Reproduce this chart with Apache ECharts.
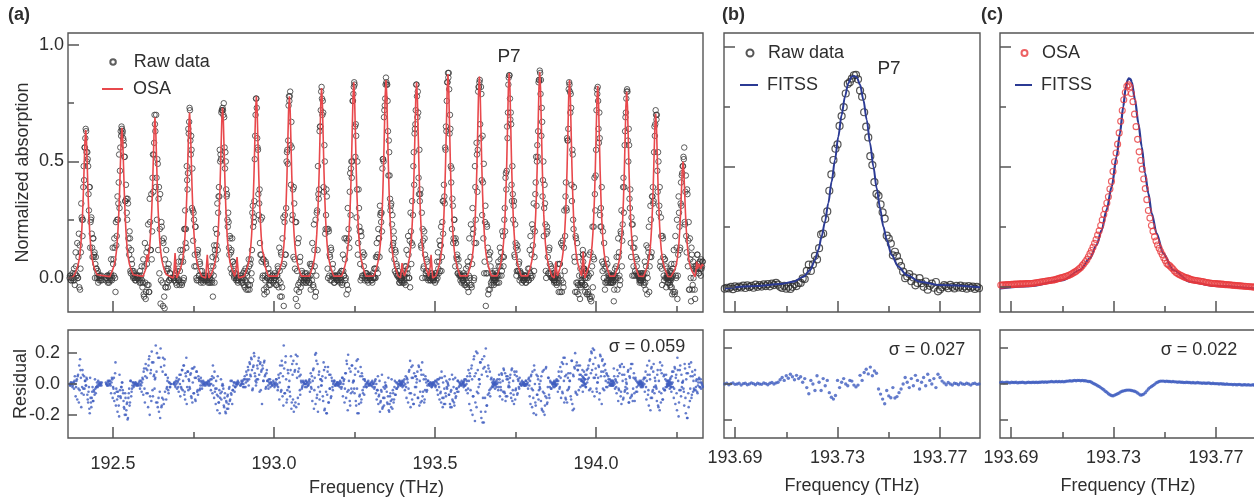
<!DOCTYPE html>
<html><head><meta charset="utf-8">
<script src="https://cdn.jsdelivr.net/npm/echarts@6/dist/echarts.min.js"></script>
<style>html,body{margin:0;padding:0;background:#fff}#c{width:1254px;height:498px}</style>
</head><body><div id="c"></div>
<script>
// ================= DATA =================
// Panel (a): uniform frequency grid; each row = [first grid index, values...]
const aFreqStart = 192.36, aFreqStep = 0.0025;
const aFreqStart2 = 192.36125; // second (interleaved) set of samples
const aOsaRows = [
[0,.00,.00,.00,.00,.00,.003,.004,.006,.014,.022,.03,.039,.051,.064,.083,.108,.146,.197,.267,.356,.47,.584,.635,.584,.47,.356,.267,.197,.146,.108,.083,.064,.051,.039,.03,.022,.014,.006],
[52,.006,.014,.023,.031,.04,.052,.065,.084,.11,.148,.2,.271,.361,.477,.593,.645,.593,.477,.361,.271,.2,.148,.11,.084,.065,.052,.04,.031,.023,.014,.006],
[93,.007,.015,.024,.033,.045,.10,.069,.09,.117,.159,.214,.29,.386,.511,.635,.69,.635,.511,.386,.29,.214,.159,.117,.09,.069,.055,.043,.033,.024,.015,.007],
[131,.00,.05,.107,.05,.00],
[136,.007,.016,.025,.034,.044,.057,.071,.092,.121,.163,.22,.298,.398,.525,.653,.71,.653,.525,.398,.298,.22,.163,.121,.092,.071,.057,.044,.034,.025,.016,.007],
[171,.00,.05,.10,.05,.00],
[177,.007,.016,.026,.035,.045,.058,.073,.095,.124,.168,.226,.307,.409,.54,.672,.73,.672,.54,.409,.307,.226,.168,.124,.095,.073,.058,.045,.035,.026,.016,.007],
[208,.00,.045,.09,.045,.00],
[219,.008,.017,.027,.037,.048,.062,.078,.101,.133,.179,.242,.328,.437,.577,.718,.78,.718,.577,.437,.328,.242,.179,.133,.11,.10,.08,.048,.037,.027,.017,.008],
[260,.008,.017,.027,.037,.048,.062,.078,.101,.133,.179,.242,.328,.437,.577,.718,.78,.718,.577,.437,.328,.242,.179,.133,.101,.078,.062,.048,.037,.027,.017,.008],
[300,.008,.018,.029,.039,.051,.065,.082,.106,.139,.187,.253,.342,.456,.603,.75,.815,.75,.603,.456,.342,.253,.187,.139,.106,.082,.065,.051,.039,.029,.018,.008],
[340,.008,.018,.029,.04,.052,.067,.084,.109,.143,.193,.26,.353,.47,.622,.773,.84,.773,.622,.47,.353,.26,.193,.143,.109,.084,.067,.052,.04,.029,.018,.008],
[380,.009,.019,.03,.041,.053,.068,.085,.111,.145,.196,.264,.357,.476,.629,.782,.85,.782,.629,.476,.357,.264,.196,.145,.111,.085,.068,.053,.041,.03,.019,.009],
[413,.00,.03,.064,.03],
[418,.008,.018,.029,.04,.052,.067,.084,.109,.143,.193,.26,.353,.47,.622,.773,.84,.773,.622,.47,.353,.26,.193,.143,.109,.084,.067,.052,.04,.029,.018,.008],
[449,.00,.05,.10,.05,.00],
[457,.009,.019,.031,.042,.054,.07,.088,.114,.149,.201,.271,.368,.49,.648,.805,.875,.805,.648,.49,.368,.271,.201,.149,.114,.088,.07,.054,.042,.031,.019,.009],
[496,.009,.019,.03,.042,.054,.069,.087,.112,.147,.199,.268,.363,.484,.64,.796,.865,.796,.64,.484,.363,.268,.199,.147,.112,.087,.069,.054,.042,.03,.019,.009],
[533,.009,.019,.031,.042,.055,.07,.088,.114,.15,.202,.273,.37,.493,.651,.81,.88,.81,.651,.493,.37,.273,.202,.15,.114,.088,.07,.055,.042,.031,.019,.009],
[571,.009,.019,.031,.042,.055,.071,.089,.115,.15,.204,.274,.372,.496,.655,.814,.885,.814,.655,.496,.372,.274,.204,.15,.115,.089,.071,.055,.042,.031,.019,.009],
[604,.00,.035,.07,.035],
[608,.009,.019,.03,.041,.053,.068,.085,.111,.145,.196,.264,.357,.476,.629,.782,.85,.782,.629,.476,.357,.264,.196,.145,.111,.085,.068,.053,.041,.03,.019,.009],
[639,.06,.113,.05,.00],
[643,.008,.018,.029,.04,.051,.066,.083,.107,.14,.19,.256,.347,.462,.611,.759,.825,.759,.611,.462,.347,.256,.19,.14,.107,.083,.066,.051,.04,.029,.018,.008],
[679,.008,.018,.028,.038,.05,.064,.08,.104,.136,.184,.248,.336,.448,.592,.736,.80,.736,.592,.448,.336,.248,.184,.136,.104,.08,.064,.05,.038,.028,.018,.008],
[715,.007,.016,.025,.034,.044,.056,.071,.092,.12,.162,.219,.296,.395,.522,.649,.705,.649,.522,.395,.296,.219,.162,.12,.092,.071,.056,.044,.034,.025,.016,.007],
[749,.005,.011,.018,.024,.031,.04,.05,.065,.085,.115,.155,.21,.28,.37,.46,.50,.46,.37,.28,.21,.155,.115,.085,.065,.05,.04,.031,.024,.018,.011,.005],
[780,.03,.07,.04,.05,.06,.05,.04,.05,.06,.05]
];
const aRawRows = [
[2,.00,.01,-.01,.00,.01,.00,-.01,.02,.05,.01,.00,.09,-.04,-.05,.11,.26,.18,.39,.42,.56,.64,.54,.54,.48,.29,.39,.24,.26,.13,.17,.09,.11,.06,.04,.00,.03,.00,-.01,.01,.00,-.01],
[47,-.01,.00,.01,-.01,-.02,.01,.02,.01,.00,.06,.01,.13,-.06,.14,.25,.25,.41,.30,.56,.61,.64,.63,.59,.52,.33,.40,.28,.34,.17,.10,.17,.02,.08,.03,.00,.02,.00,-.01,.00,.01,.00],
[88,-.01,-.02,.00,.01,-.01,-.02,-.07,.05,-.02,-.06,.06,.13,-.03,-.06,.24,.12,.08,.43,.37,.58,.66,.39,.43,.51,.12,.39,.21,-.11,.24,.16,-.12,.17,-.13,-.04,.12,.03,-.04,.06,-.01,.02,.00],
[131,.00,-.01,.01,-.02,-.03,.00,.04,-.01,.03,-.02,.09,-.02,.07,.00,.21,.15,.13,.42,.45,.62,.73,.59,.61,.30,.29,.28,.05,.22,.05,-.01,.10,-.01,.01,.06,-.02,.00,.01,-.02,.00,-.01,.01],
[172,-.01,.00,-.02,-.01,.01,-.02,.02,-.02,-.08,.01,-.02,.10,.08,.19,.12,.35,.35,.50,.51,.72,.73,.70,.69,.47,.50,.35,.25,.28,.13,.18,.04,.12,.17,.07,.01,.06,.02,-.01,.00,-.02,-.01],
[214,.01,.00,-.01,-.02,.00,.03,-.01,.02,-.02,.03,-.03,.05,-.03,.08,.02,.28,.22,.24,.51,.70,.77,.60,.55,.27,.38,.10,.10,.26,.01,.08,-.07,-.01,.06,-.06,.00,.04,-.01,-.03,-.01,.00,.01],
[255,-.02,.00,.01,-.01,-.03,.01,.04,-.01,.03,-.02,.10,-.04,.05,-.12,.24,.10,.30,.54,.49,.74,.76,.80,.40,.56,.27,.09,.32,.04,-.09,-.05,-.12,-.03,-.06,.07,-.04,.00,.02,-.02,-.01,.00,-.02],
[295,.00,-.02,-.01,.01,.00,-.02,.01,.05,-.01,.03,-.04,.12,-.08,-.06,.28,.12,.36,.38,.65,.72,.82,.70,.71,.37,.50,.21,.38,.21,.00,.20,.10,-.01,.12,.01,.06,.00,-.02,.01,.00,-.01,.00],
[335,-.01,.01,.00,-.02,-.01,.03,-.02,.03,.01,.08,.00,-.07,.16,-.05,.17,.37,.27,.50,.50,.76,.82,.83,.52,.61,.38,.10,.38,.22,.06,.20,.00,.09,.01,.10,.00,.01,.02,-.01,-.02,.01,.00],
[375,.00,-.01,.01,-.02,.00,.00,.04,.00,.04,.09,.02,.17,.09,.27,.24,.20,.51,.50,.72,.77,.86,.83,.76,.44,.54,.34,.31,.12,.27,.15,.17,.03,.11,.06,.01,.03,.00,-.02,.01,.00,-.01],
[413,-.01,.00,-.02,.01,-.01,-.02,.02,.05,.00,.04,.10,.00,-.04,.20,.15,.14,.48,.40,.64,.72,.83,.69,.71,.36,.33,.38,.13,.00,.16,.05,.17,.00,.03,.07,.00,.01,.01,-.01,.00,.02,-.01],
[452,.00,.01,-.01,.00,-.02,.02,.01,.00,.04,.07,.03,.14,.03,.24,.19,.40,.32,.55,.63,.84,.88,.88,.62,.64,.41,.21,.31,.17,.25,.05,.15,.08,.02,.08,.01,.01,.01,-.02,.00,-.01,.01],
[491,-.01,-.02,.01,-.03,.00,-.04,.05,.01,-.03,.09,-.03,.06,.19,-.01,.15,.39,.15,.53,.55,.82,.84,.66,.82,.42,.61,.17,.02,.24,-.12,.23,.02,-.07,.10,-.05,.05,-.03,-.01,.02,-.03,.00,-.01],
[528,.00,-.01,.00,.01,-.02,.01,.01,.05,.01,.05,.11,.03,.09,.05,.25,.20,.45,.46,.60,.83,.87,.77,.71,.40,.48,.25,.33,.09,.15,.01,.14,.03,.06,-.01,.02,.02,-.02,.00,-.01,.01,.00],
[566,-.01,.00,.01,-.02,.00,.00,-.01,.04,.02,.01,.10,.01,.21,.03,.20,.41,.31,.57,.63,.85,.89,.79,.61,.67,.42,.18,.40,.23,.00,.22,.09,.02,.13,.01,.05,.00,.00,.02,-.01,.00,-.02],
[603,.00,-.02,-.01,.01,-.03,.01,.00,-.02,.06,.01,-.01,.14,-.02,.13,.03,.35,.30,.60,.59,.81,.83,.71,.73,.33,.53,.21,.09,-.06,.17,-.06,-.02,-.07,.01,-.09,-.04,-.01,-.03,.07,.04,-.03,.00],
[638,-.02,.01,.10,.04,-.03,.03,-.04,.02,-.06,.01,-.08,.11,-.10,.05,-.04,.22,.43,.29,.55,.81,.82,.64,.71,.27,.30,.39,.03,.06,.15,-.05,.05,-.02,.06,-.02,.01,-.02,.01,-.02,.00,.01,-.01],
[674,.00,-.01,.01,-.02,-.10,.01,-.01,.05,.03,.00,.09,.01,-.01,.19,.05,.23,.43,.39,.63,.71,.80,.80,.50,.57,.30,.15,.26,.01,.13,.01,.17,.01,.02,.08,.01,.01,-.02,.01,-.01,.00,.02],
[710,-.01,.00,-.02,.01,-.01,-.02,.02,-.02,.05,.02,.00,.11,-.06,.09,.25,.11,.35,.32,.54,.61,.72,.68,.46,.54,.28,.39,.07,.18,-.03,.17,.01,.08,.00,-.04,.04,.00,.00,-.02,.01,-.01,.00],
[744,.00,-.02,.01,-.01,-.03,.03,-.04,.01,-.06,.06,-.06,.01,.13,-.09,.10,.28,.12,.32,.31,.45,.48,.51,.24,.37,.18,.38,.05,.24,-.05,.08,-.10,.10,-.03,.00,.05,-.09,.05,.04,.10,.04,.02,.07,.01,.04,.07,.03]
];
const aRawRows2 = [
[2,.01,-.01,.00,.02,-.01,.04,-.03,.11,.01,.15,.00,.19,.14,.04,.32,.25,.25,.48,.56,.60,.63,.50,.51,.36,.39,.13,.25,.19,.09,.17,.10,.00,.09,.04,.02,-.02,.01,.00,-.01,.01],
[47,.00,.01,-.02,.01,.00,-.01,.08,-.01,.13,.08,.17,.00,.24,.18,.35,.32,.53,.46,.63,.65,.62,.60,.57,.52,.33,.34,.25,.32,.13,.20,.03,.12,.06,.01,.03,.00,-.01,.01,.00,.01],
[88,.01,.03,-.02,.05,-.04,.08,-.08,.15,-.09,.11,-.03,.23,-.06,.34,.12,.36,.20,.53,.53,.70,.63,.70,.25,.49,.34,.02,.36,-.01,.22,-.02,.15,-.08,.08,-.04,.04,-.02,.04,-.01,.02,.00],
[131,.00,-.01,.02,.00,.03,-.01,.07,-.03,.12,.07,-.03,.12,-.01,.21,.29,.21,.48,.38,.64,.67,.72,.53,.55,.47,.16,.25,.10,.22,.00,.11,.12,.01,.07,.03,-.01,.03,.00,-.01,.01,.00],
[172,-.01,.00,.01,-.02,.00,.05,-.01,.09,.05,.14,.12,.21,.14,.32,.28,.39,.55,.53,.71,.72,.72,.75,.56,.54,.38,.36,.22,.24,.10,.17,.11,.02,.07,.03,.00,.02,.00,.01,-.01,.00],
[214,.01,-.02,.00,.02,-.03,-.04,.04,-.05,.01,-.05,.08,-.05,.06,-.01,.12,.31,.26,.33,.61,.77,.73,.56,.36,.32,.15,.25,.07,.00,.08,-.05,.01,.07,-.04,.00,.02,-.03,.00,.02,-.01,.01],
[255,-.01,.02,.00,-.03,.01,.05,-.04,.13,-.08,.11,-.08,.17,.26,.06,.27,.10,.50,.55,.59,.78,.78,.57,.67,.25,.38,.39,.08,.24,.24,.03,.15,.17,-.02,.09,-.01,.03,.01,-.01,.00,.02],
[295,.00,.02,-.01,.01,-.02,.06,-.05,.06,.15,-.03,.23,.05,.25,.01,.29,.48,.34,.63,.65,.80,.77,.76,.39,.57,.19,.27,.35,.04,.21,.01,.09,.13,-.01,.04,.01,-.02,.01,.00,.01,-.01],
[335,.01,-.01,.02,.00,.03,-.03,.10,.01,.17,-.01,.17,-.03,.30,.21,.13,.45,.47,.43,.76,.79,.84,.65,.66,.26,.50,.15,.30,.20,-.01,.18,.01,.11,.05,-.01,.02,.02,-.01,.00,.01,.00],
[375,.00,.01,-.01,.02,.00,.04,.00,.09,.15,.10,.21,.17,.31,.28,.28,.47,.51,.69,.74,.83,.84,.83,.63,.59,.44,.29,.32,.23,.14,.20,.08,.12,.02,.05,.01,.01,-.02,.00,.01,.00],
[413,-.01,.00,.02,-.02,.01,.05,-.03,.12,.02,.18,.00,.16,.28,.06,.33,.27,.54,.62,.66,.83,.78,.80,.43,.55,.36,.14,.28,.21,.04,.20,.10,.02,.08,.03,-.01,.00,.01,-.01,.02,.00],
[452,.01,.00,-.01,.01,.02,-.01,.07,.11,.02,.16,.14,.22,.09,.33,.33,.35,.56,.65,.76,.84,.86,.81,.70,.48,.47,.34,.15,.25,.16,.17,.09,.10,.02,.05,.02,-.01,.00,.01,-.01,.00],
[491,.02,-.03,.01,.04,-.02,.07,-.06,.17,.00,.23,-.04,.30,.21,.00,.48,.25,.58,.37,.80,.82,.85,.60,.79,.27,.41,.49,.07,.31,.02,.22,.13,-.05,.08,.11,-.02,.02,.01,-.02,.00,.03],
[528,.00,.01,-.01,.00,.02,-.02,.07,-.02,.13,.08,.01,.20,.18,.09,.30,.43,.38,.65,.71,.86,.87,.68,.66,.33,.36,.31,.10,.23,.13,.03,.12,.03,.07,.03,.00,.01,.00,-.01,.00,.01],
[566,.01,.00,-.02,.01,.00,.04,-.01,.12,.18,.00,.23,.14,.32,.09,.36,.52,.50,.52,.84,.85,.88,.85,.73,.35,.50,.30,.32,.03,.19,.20,.02,.12,.06,.02,.04,.00,.01,-.01,.00,.01],
[603,-.01,.02,.00,.01,-.02,.06,-.06,.06,-.06,.15,-.06,.16,-.04,.29,.18,.41,.29,.59,.64,.84,.80,.79,.40,.55,.25,.39,.07,.18,-.02,.15,-.03,.09,-.03,.04,-.02,.01,.12,.04,.01,.00],
[638,-.02,.10,.04,.02,-.06,.03,-.07,.00,-.07,.10,-.09,.02,-.08,.22,.09,.08,.36,.44,.72,.79,.76,.58,.60,.22,.22,.07,.20,.00,.04,-.02,.08,-.01,.02,-.01,.02,.00,-.02,.01,.00,-.01],
[674,.01,.00,-.02,.01,-.05,.04,.00,.09,-.05,.17,.11,-.03,.20,.29,.16,.39,.28,.57,.69,.77,.81,.59,.64,.34,.38,.09,.23,.23,.05,.13,.03,.09,.05,.01,.02,.00,-.01,.02,.00,.01],
[710,.00,-.01,.02,.00,.01,-.03,.07,-.05,.14,-.07,.13,.22,.05,.31,.09,.35,.39,.33,.65,.66,.70,.70,.37,.50,.31,.05,.26,.04,.18,.09,-.01,.08,.05,.00,.02,.00,.01,-.01,.00,.02],
[744,.01,-.02,.00,.03,-.04,.06,-.07,.04,.12,-.07,.18,.00,.25,.01,.35,.22,.13,.41,.44,.48,.52,.56,.23,.44,.11,.36,.16,-.05,.17,.00,.13,-.05,.07,.04,-.05,.04,.03,.10,.06,.02,.07,.04,.08,.05,.07]
];
const aResRows = [
[2,.00,-.01,.01,.00,-.01,.01,.02,.00,-.02,.03,.05,-.03,.12,.16,.04,-.06,.09,-.03,.05,.02,-.01,.04,-.07,-.12,-.02,-.19,-.09,-.15,-.05,-.11,-.04,-.07,-.03,-.02,.01,-.02,.00,.01,-.01,.00,.01],
[47,.01,.00,-.01,.01,.02,.00,-.01,.01,.03,-.02,.04,-.06,.14,-.03,-.10,-.05,-.14,.06,-.08,-.02,.01,-.04,-.11,-.16,-.06,-.20,-.13,-.23,-.09,-.03,-.12,.02,-.05,-.01,.01,-.01,.00,.01,.00,-.01,.00],
[88,.01,.02,.00,-.01,.01,.03,.08,-.03,.05,.10,.04,-.06,.12,.18,-.08,.09,.21,-.04,.14,.06,.03,.25,.08,-.12,.17,-.18,-.05,.23,-.15,-.09,.17,-.13,.16,.06,-.10,-.02,.04,-.06,.01,-.02,.00],
[131,.00,.01,-.01,.02,.04,.01,-.02,.03,.00,.06,-.03,.09,.02,.12,-.05,.07,.17,-.02,.08,.03,-.02,.06,-.08,.10,.01,-.06,.11,-.10,.04,.08,-.04,.05,.02,-.03,.04,.01,-.01,.02,.00,.01,-.01],
[172,.01,.00,.02,.01,-.01,.03,.00,.05,.12,.04,.08,-.03,.02,-.07,.05,-.12,-.04,-.09,.03,-.05,.00,-.03,-.15,-.06,-.19,-.12,-.08,-.16,-.03,-.11,.02,-.07,-.13,-.04,.01,-.05,-.02,.01,.00,.02,.01],
[214,-.01,.00,.01,.02,.00,-.02,.03,.01,.06,.02,.09,.03,.13,.05,.16,-.04,.11,.20,.07,.02,.01,.12,.03,.17,-.05,.14,.08,-.13,.10,.02,.15,.06,-.02,.09,.02,-.03,.01,.03,.01,.00,-.01],
[255,.02,.00,-.01,.01,.03,.00,-.02,.04,.01,.07,-.04,.12,.05,.25,-.06,.14,.03,-.10,.09,-.02,.02,-.08,.18,-.12,.06,.15,-.14,.09,.19,.13,.18,.08,.10,-.04,.06,.01,-.02,.02,.01,.00,.02],
[295,.00,.02,.01,-.01,.00,.03,.01,-.02,.05,.02,.10,-.04,.19,.20,-.09,.13,-.02,.08,-.05,.03,-.01,.05,-.11,.09,-.16,.04,-.19,-.07,.11,-.12,-.03,.06,-.08,.02,-.04,.01,.02,-.01,.00,.01,.00],
[335,.01,-.01,.00,.02,.01,-.02,.04,.00,.03,-.03,.07,.15,-.05,.19,.02,-.11,.08,-.03,.12,.01,.02,-.06,.10,-.14,-.03,.16,-.19,-.08,.05,-.12,.07,-.04,.03,-.07,.02,.00,-.02,.01,.02,-.01,.00],
[375,.00,.01,-.01,.02,.00,.01,-.02,.03,.00,-.04,.05,-.08,.02,-.12,-.04,.06,-.15,-.02,-.09,.01,-.01,-.05,-.13,.04,-.18,-.08,-.11,.03,-.16,-.06,-.10,.02,-.07,-.03,.01,-.02,.00,.02,-.01,.00,.01],
[413,.01,.00,.02,-.01,.01,.03,.00,-.02,.04,.01,-.03,.09,.15,-.06,.04,.12,-.13,.07,-.02,.05,.01,.08,-.09,.11,.02,-.12,.06,.14,-.05,.03,-.10,.05,.01,-.04,.02,.00,-.01,.01,.00,-.02,.01],
[452,.00,-.01,.01,.00,.02,-.01,.01,.03,.00,-.02,.04,-.05,.08,-.09,.01,-.13,.05,-.06,.02,-.03,.00,-.07,.03,-.15,-.04,.06,-.11,-.02,-.14,.04,-.08,-.03,.02,-.05,.01,.00,-.01,.02,.00,.01,-.01],
[491,.01,.02,-.01,.03,.00,.05,-.03,.02,.07,-.04,.10,.03,-.08,.16,.05,-.12,.21,-.05,.09,-.02,.03,.14,-.18,.06,-.25,.10,.18,-.09,.23,-.14,.05,.12,-.06,.08,-.03,.04,.01,-.02,.03,.00,.01],
[528,.00,.01,.00,-.01,.02,.00,.01,-.02,.03,.01,-.04,.06,.02,.10,-.05,.07,-.08,.03,.05,-.02,.01,.04,-.06,.09,-.11,.02,-.13,.06,-.04,.08,-.07,.03,-.02,.04,.00,-.01,.02,.00,.01,-.01,.00],
[566,.01,.00,-.01,.02,.00,.01,.03,-.01,.02,.05,-.03,.08,-.09,.12,.00,-.14,.06,-.07,.03,-.04,-.02,.02,.05,-.17,-.05,.09,-.20,-.08,.11,-.13,-.02,.04,-.09,.02,-.03,.01,.00,-.02,.01,.00,.02],
[603,.00,.02,.01,-.01,.03,.00,.02,.05,-.02,.04,.08,-.05,.13,.02,.17,-.09,.06,-.12,.04,-.03,.02,.07,-.10,.15,-.17,.05,.11,.20,-.06,.14,.09,.12,.03,.12,.06,.02,.09,.04,.01,.03,.00],
[638,.02,.05,.01,.08,.03,-.02,.06,.01,.10,.04,.15,-.03,.21,.09,.23,.04,-.08,.17,.06,-.05,.01,.12,-.10,.19,.05,-.13,.16,.08,-.04,.13,.02,.07,-.02,.05,.01,.03,-.01,.02,.00,-.01,.01],
[674,.00,.01,-.01,.02,.10,.00,.03,-.02,.01,.05,-.03,.07,.11,-.05,.13,.02,-.09,.06,-.04,.03,.00,-.06,.09,-.12,.04,.10,-.08,.13,-.03,.07,-.11,.04,.02,-.05,.01,.00,.02,-.01,.01,.00,-.02],
[710,.01,.00,.02,-.01,.01,.03,.00,.04,-.02,.02,.06,-.04,.15,.03,-.09,.11,-.05,.08,-.02,.04,-.01,-.03,.06,-.14,.02,-.17,.09,-.06,.12,-.10,.05,-.04,.03,.06,-.02,.01,.00,.02,-.01,.01,.00],
[744,.00,.02,-.01,.01,.03,-.02,.05,.01,.08,-.03,.10,.04,-.06,.17,.02,-.12,.09,-.04,.06,.01,.02,-.05,.13,-.09,.03,-.22,.07,-.15,.11,-.03,.14,-.07,.05,.02,-.04,.09,-.02,.03,-.06,.01,.04,-.02,.03,.01,-.01,.02]
];
const aResRows2 = [
[2,-.01,.01,.00,-.02,.01,-.03,.05,-.08,.02,-.10,.06,-.12,-.04,.09,-.15,-.02,.06,-.07,-.03,.02,-.01,.03,-.10,-.05,-.16,.04,-.12,-.09,-.02,-.11,-.05,.03,-.06,-.02,-.01,.02,-.01,.00,.01,-.01],
[47,.00,-.01,.02,-.01,.00,.02,-.06,.04,-.09,-.03,-.11,.07,-.14,-.05,-.18,-.08,-.21,-.04,-.09,-.02,.01,-.06,-.15,-.20,-.09,-.17,-.12,-.22,-.06,-.14,.02,-.08,-.03,.01,-.02,.00,.01,-.01,.00,-.01],
[88,-.01,-.03,.02,-.05,.04,-.07,.10,-.12,.13,-.06,.09,-.15,.16,-.20,.07,-.11,.14,-.08,.05,-.03,.04,-.12,.20,-.15,-.09,.17,-.22,.11,-.14,.08,-.10,.12,-.05,.06,-.03,.02,-.04,.01,-.02,.00],
[131,.00,.01,-.02,.00,-.03,.02,-.05,.06,-.08,-.02,.09,-.04,.12,-.07,-.10,.05,-.13,.08,-.04,.02,-.03,.07,-.09,-.12,.10,-.06,.04,-.11,.08,-.05,-.07,.03,-.04,-.01,.02,-.03,.00,.01,-.01,.00],
[172,.01,.00,-.01,.02,.00,-.04,.03,-.06,-.01,-.09,-.05,-.13,-.03,-.17,-.08,-.12,-.19,-.06,-.10,-.01,-.01,-.14,-.09,-.18,-.11,-.16,-.07,-.13,-.02,-.10,-.06,.02,-.04,-.01,.01,-.02,.00,-.01,.01,.00],
[214,-.01,.02,.00,-.02,.03,.05,-.02,.08,.03,.11,-.01,.14,.06,.17,.09,-.03,.12,.18,.05,-.01,.03,.10,.15,.06,.13,-.04,.09,.12,.02,.14,.05,-.03,.07,.02,-.01,.03,.00,-.02,.01,-.01],
[255,.01,-.02,.00,.03,-.01,-.04,.06,-.10,.12,-.05,.15,-.08,-.14,.10,-.06,.18,-.12,-.04,.07,-.02,-.05,.09,-.16,.13,-.10,-.18,.08,-.12,-.15,.04,-.09,-.13,.05,-.07,.02,-.03,-.01,.01,.00,-.02],
[295,.00,-.02,.01,-.01,.02,-.05,.07,-.03,-.11,.09,-.16,.04,-.13,.15,-.07,-.18,.06,-.10,.03,-.01,.02,-.08,.14,-.17,.11,-.05,-.19,.08,-.12,.06,-.03,-.09,.04,-.02,.00,.02,-.01,.00,-.01,.01],
[335,-.01,.01,-.02,.00,-.03,.04,-.08,.02,-.12,.07,-.09,.13,-.17,-.04,.10,-.14,-.06,.12,-.05,.02,-.03,.06,-.11,.15,-.19,.08,-.13,-.07,.11,-.10,.05,-.06,-.02,.03,-.01,-.02,.01,.00,-.01,.00],
[375,.00,-.01,.01,-.02,.00,-.03,.02,-.06,-.10,-.04,-.13,-.07,-.18,-.11,-.05,-.16,-.09,-.14,-.03,-.01,-.02,-.12,-.08,-.17,-.13,-.06,-.15,-.10,-.04,-.12,-.02,-.07,.01,-.03,.00,-.01,.02,.00,-.01,.00],
[413,.01,.00,-.02,.02,-.01,-.04,.05,-.09,.03,-.12,.08,-.06,-.15,.11,-.10,.04,-.13,-.07,.05,-.02,.03,-.09,.12,-.14,-.05,.09,-.11,-.08,.06,-.12,-.04,.03,-.05,-.01,.02,.00,-.01,.01,-.02,.00],
[452,-.01,.00,.01,-.01,-.02,.02,-.04,-.07,.03,-.10,-.06,-.12,.04,-.15,-.09,-.03,-.13,-.08,-.02,.01,-.01,-.07,-.13,-.05,-.15,-.10,.03,-.12,-.06,-.09,-.03,-.05,.02,-.02,-.01,.01,.00,-.01,.01,.00],
[491,-.02,.03,-.01,-.04,.02,-.06,.09,-.13,.05,-.17,.12,-.20,-.08,.18,-.24,.07,-.15,.20,-.06,.03,.00,.14,-.22,.16,-.09,-.25,.11,-.18,.08,-.14,-.07,.10,-.04,-.08,.03,-.02,-.01,.02,.00,-.03],
[528,.00,-.01,.01,.00,-.02,.03,-.04,.06,-.08,-.02,.07,-.10,-.05,.09,-.06,-.11,.05,-.08,.03,-.01,-.02,.06,-.09,.10,-.04,-.07,.08,-.10,-.03,.05,-.06,.02,-.03,.00,.01,-.01,.00,.01,.00,-.01],
[566,-.01,.00,.02,-.01,.00,-.03,.04,-.08,-.13,.06,-.15,-.04,-.19,.09,-.12,-.20,-.07,.05,-.10,.00,-.03,-.11,-.16,.08,-.18,-.06,-.14,.10,-.09,-.12,.04,-.07,-.02,.01,-.03,.00,-.01,.01,.00,-.01],
[603,.01,-.02,.00,-.01,.02,-.05,.08,-.03,.11,-.09,.14,-.06,.17,-.12,.05,-.10,.13,-.04,.07,-.02,.02,-.08,.15,-.13,.06,-.16,.10,-.05,.12,-.07,.09,-.04,.06,-.02,.03,-.01,-.05,.02,-.01,.00],
[638,.02,-.01,.04,.00,.06,-.02,.09,.03,.12,-.04,.16,.07,.20,-.05,.13,.22,.04,.10,-.03,.01,.04,.11,-.06,.18,.08,.15,-.03,.12,.05,.09,-.02,.06,.01,.03,-.01,.00,.02,-.01,.00,.01],
[674,-.01,.00,.02,-.01,.05,-.03,.02,-.06,.09,-.11,-.04,.12,-.08,-.13,.06,-.10,.11,-.05,-.02,.01,-.03,.08,-.12,.05,-.09,.13,-.07,-.11,.04,-.06,.03,-.05,-.02,.01,-.01,.00,.01,-.02,.00,-.01],
[710,.00,.01,-.02,.00,-.01,.04,-.05,.08,-.10,.12,-.07,-.14,.06,-.17,.10,-.09,-.04,.13,-.06,.02,-.02,-.11,.09,-.15,-.05,.14,-.12,.07,-.10,-.03,.06,-.04,-.02,.02,-.01,.00,-.01,.01,.00,-.02],
[744,-.01,.02,.00,-.03,.04,-.05,.08,-.02,-.09,.11,-.13,.06,-.17,.09,-.21,-.04,.12,-.08,-.02,.01,-.03,-.14,.10,-.19,.07,-.22,-.06,.13,-.11,.05,-.09,.08,-.05,-.03,.06,-.04,.02,-.05,-.01,.03,-.02,.01,-.03,.00,-.02]
];

// Panel (b): raw data and residual on a uniform grid; FITSS curve as traced points
const bFreqStart = 193.686, bFreqStep = 0.0008;
const bRaw = [-.007,-.003,-.006,.001,-.009,.003,-.004,.002,-.002,.006,
-.004,.007,.000,.005,-.003,.010,.001,.008,.002,.011,
.004,.012,.003,.014,.008,.017,.010,.001,-.004,.005,
-.007,.002,-.008,.001,.012,.004,.017,.017,.036,.033,
.067,.093,.067,.094,.130,.115,.162,.219,.223,.283,
.315,.401,.469,.529,.576,.594,.671,.712,.749,.806,
.846,.853,.868,.882,.884,.865,.818,.793,.728,.668,
.623,.545,.508,.437,.388,.380,.344,.311,.285,.214,
.202,.181,.132,.147,.129,.106,.087,.064,.037,.044,
.054,.024,.040,.007,.017,.037,.016,.001,.023,-.011,
.005,.014,-.003,.021,-.018,-.010,-.001,.008,.003,-.005,
.009,.001,-.006,.005,-.002,.006,-.004,.003,-.007,.004,
-.003,.002,-.008,.001,-.005];
const bRes = [.000,.002,-.002,.001,.003,-.001,.000,.002,-.003,.001,
.002,-.002,.000,.003,.001,-.002,.002,.000,-.001,.003,
.001,-.002,.002,.004,.000,.003,.005,.012,.018,.010,
.023,.016,.027,.020,.012,.024,.015,.020,.005,.015,
-.010,-.027,.010,.000,-.018,.023,.005,-.018,.015,-.005,
.010,-.024,-.037,-.042,-.032,.010,-.010,.005,.015,.000,
-.005,.010,.008,-.003,-.008,-.003,.024,.010,.032,.041,
.028,.047,.023,.036,.030,-.014,-.028,-.042,-.055,-.018,
-.033,-.038,-.010,-.039,-.035,-.024,-.014,.000,.018,.005,
-.010,.015,-.005,.024,.010,-.014,.005,.018,-.005,.027,
.010,.000,.015,-.010,.027,.018,.008,.003,-.002,.004,
.000,-.003,.002,.001,-.002,.003,.000,-.001,.002,.000,
-.003,.001,.002,-.001,.000];
const bFitFreq = [193.6861,193.6984,193.7076,193.7128,193.7167,193.7193,193.7212,193.7225,193.7238,193.7251,193.7264,193.7277,193.7290,193.7303,193.7316,193.7329,193.7342,193.7355,193.7364,193.7375,193.7388,193.7401,193.7414,193.7427,193.7440,193.7453,193.7466,193.7479,193.7492,193.7511,193.7537,193.7570,193.7622,193.7700,193.7856];
const bFitVal = [-.006,.004,.0125,.022,.043,.071,.112,.154,.21,.272,.349,.439,.529,.626,.717,.793,.849,.876,.879,.874,.842,.779,.696,.599,.501,.411,.328,.251,.196,.133,.085,.05,.022,.008,-.001];

// Panel (c): OSA points and residual on a uniform grid; FITSS curve as traced points
const cFreqStart = 193.686, cFreqStep = 0.0006;
const cOsa = [.008,.008,.009,.009,.010,.010,.010,.011,.011,.012,
.012,.012,.013,.013,.013,.013,.014,.014,.014,.015,
.015,.016,.017,.018,.019,.020,.021,.022,.023,.024,
.025,.026,.027,.028,.029,.030,.032,.034,.036,.038,
.040,.042,.044,.046,.048,.051,.054,.058,.062,.066,
.071,.076,.081,.089,.097,.105,.114,.126,.139,.152,
.166,.182,.198,.216,.234,.256,.279,.302,.325,.350,
.376,.408,.440,.481,.522,.558,.595,.642,.690,.735,
.780,.810,.836,.842,.834,.806,.772,.720,.668,.615,
.563,.527,.491,.450,.410,.364,.319,.287,.256,.232,
.209,.192,.175,.161,.148,.135,.122,.110,.098,.093,
.088,.081,.075,.067,.060,.056,.052,.049,.046,.043,
.040,.038,.036,.033,.031,.029,.028,.027,.026,.025,
.024,.023,.022,.020,.019,.018,.017,.016,.015,.015,
.014,.013,.013,.012,.012,.011,.010,.010,.009,.009,
.008,.007,.007,.006,.006,.005,.005,.004,.003,.003,
.002,.002,.001,.001,.000,.000,-.001];
const cRes = [.004,.005,.003,.004,.005,.004,.003,.005,.004,.004,
.005,.003,.004,.004,.005,.004,.003,.004,.005,.004,
.004,.005,.004,.005,.004,.005,.005,.006,.005,.006,
.005,.006,.006,.007,.006,.006,.007,.006,.007,.006,
.007,.006,.007,.008,.008,.009,.008,.009,.010,.009,
.010,.010,.009,.010,.009,.009,.008,.007,.007,.005,
.002,.000,-.002,-.005,-.007,-.010,-.013,-.016,-.020,-.023,
-.027,-.030,-.032,-.033,-.031,-.029,-.027,-.025,-.022,-.020,
-.019,-.018,-.017,-.017,-.017,-.018,-.019,-.020,-.022,-.025,
-.028,-.031,-.030,-.028,-.024,-.019,-.014,-.010,-.007,-.004,
-.001,.003,.005,.007,.008,.008,.008,.007,.008,.007,
.007,.006,.007,.006,.006,.005,.006,.005,.005,.004,
.004,.005,.004,.004,.003,.004,.003,.003,.004,.003,
.003,.002,.003,.002,.002,.003,.002,.001,.002,.001,
.001,.001,.000,.001,.000,.000,-.001,.000,-.001,-.001,
-.001,-.002,-.001,-.002,-.002,-.001,-.002,-.003,-.002,-.002,
-.003,-.002,-.003,-.003,-.002,-.003,-.003];
const cFitFreq = [193.6857,193.6974,193.7104,193.7169,193.7208,193.7234,193.7254,193.7273,193.7293,193.7312,193.7325,193.7338,193.7347,193.7355,193.7360,193.7366,193.7371,193.7384,193.7397,193.7410,193.7423,193.7436,193.7449,193.7468,193.7494,193.7533,193.7598,193.7690,193.7856];
const cFitVal = [-.006,.004,.029,.071,.119,.175,.2375,.321,.418,.543,.64,.751,.825,.862,.869,.866,.855,.779,.682,.585,.474,.39,.307,.224,.14,.071,.022,.005,-.006];

// Axis ranges and tick values
const aFreqRange = [192.36, 194.332];
const aAbsRange = [-0.146, 1.0515];
const aResRange = [-0.35, 0.35];
const bcFreqRange = [193.6857, 193.7856];
const bcAbsRange = [-0.104, 1.058];
const bcResRange = [-0.15, 0.15];
const aFreqMajor = [192.5, 193.0, 193.5, 194.0];
const aFreqMinor = [192.75, 193.25, 193.75, 194.25];
const absMajor = [0, 0.5, 1.0];
const absMinor = [0.25, 0.75];
const aResTicks = [-0.2, 0, 0.2];
const bcFreqMajor = [193.69, 193.73, 193.77];
const bcFreqMinor = [193.71, 193.75];
const bcResTicks = [-0.1, 0, 0.1];

// ================= BUILD =================
function rowsToPoints(rows, start, step) {
  const pts = [];
  rows.forEach(r => { for (let j = 1; j < r.length; j++) pts.push([start + (r[0] + j - 1) * step, r[j]]); });
  return pts;
}
function gridPoints(vals, start, step) { return vals.map((v, i) => [start + i * step, v]); }
function pairPoints(xs, ys) { return xs.map((x, i) => [x, ys[i]]); }

const AX = '#555', TXT = '#2e2e2e', FONT = '"Liberation Sans", Arial, Helvetica, sans-serif';
const grids = [], xAxes = [], yAxes = [];
function panel(box, xr, yr, o) {
  const g = grids.length;
  grids.push({left: box[0], top: box[1], width: box[2], height: box[3], show: true,
    borderColor: AX, borderWidth: 1.4, backgroundColor: 'rgba(0,0,0,0)', containLabel: false, outerBoundsMode: 'none'});
  const xi = xAxes.length, yi = yAxes.length;
  const baseY = yi + 2; // hidden 0..1 axis: x axes sit on its zero = bottom edge of the frame
  const tickStyle = {color: AX, width: 1.5};
  xAxes.push({type: 'value', gridIndex: g, position: 'bottom', min: xr[0], max: xr[1], z: 5,
    axisLine: {show: false, onZero: true, onZeroAxisIndex: baseY}, splitLine: {show: false},
    axisTick: {show: true, inside: true, length: 11, customValues: o.xMaj, lineStyle: tickStyle},
    axisLabel: {show: !!o.xFmt, customValues: o.xMaj, formatter: o.xFmt, margin: o.xMargin || 8,
      fontSize: 18, color: TXT, fontFamily: FONT, hideOverlap: false},
    name: o.xName || '', nameLocation: 'middle', nameGap: o.xNameGap || 30, nameMoveOverlap: false,
    nameTextStyle: {fontSize: 18, color: TXT, fontFamily: FONT, padding: o.xNamePad || 0}});
  xAxes.push({type: 'value', gridIndex: g, position: 'bottom', min: xr[0], max: xr[1], z: 5,
    axisLine: {show: false, onZero: true, onZeroAxisIndex: baseY}, splitLine: {show: false}, axisLabel: {show: false},
    axisTick: {show: !!o.xMin, inside: true, length: 6, customValues: o.xMin || [xr[0]], lineStyle: tickStyle}});
  yAxes.push({type: 'value', gridIndex: g, position: 'left', min: yr[0], max: yr[1], z: 5,
    axisLine: {show: false, onZero: false}, splitLine: {show: false},
    axisTick: {show: true, inside: true, length: o.yLen || 11, customValues: o.yMaj, lineStyle: tickStyle},
    axisLabel: {show: !!o.yFmt, customValues: o.yMaj, formatter: o.yFmt, margin: o.yMargin || 4,
      fontSize: 18, color: TXT, fontFamily: FONT, hideOverlap: false},
    name: o.yName || '', nameLocation: 'middle', nameGap: o.yNameGap || 30, nameMoveOverlap: false,
    nameTextStyle: {fontSize: 18, color: TXT, fontFamily: FONT}});
  yAxes.push({type: 'value', gridIndex: g, position: 'left', min: yr[0], max: yr[1], z: 5,
    axisLine: {show: false, onZero: false}, splitLine: {show: false}, axisLabel: {show: false},
    axisTick: {show: !!o.yMin, inside: true, length: 6, customValues: o.yMin || [yr[0]], lineStyle: tickStyle}});
  yAxes.push({type: 'value', gridIndex: g, position: 'right', min: 0, max: 1, show: false,
    axisLine: {show: false, onZero: false}, axisTick: {show: false}, axisLabel: {show: false}, splitLine: {show: false}});
  return {xAxisIndex: xi, yAxisIndex: yi};
}
const f1 = v => v.toFixed(1), f2 = v => v.toFixed(2);

const A1 = panel([68, 33, 635, 279], aFreqRange, aAbsRange,
  {xMaj: aFreqMajor, xMin: aFreqMinor, yMaj: absMajor, yMin: absMinor, yFmt: f1, yMargin: 4,
   yName: 'Normalized absorption', yNameGap: 36});
const A2 = panel([68, 330, 635, 108], aFreqRange, aResRange,
  {xMaj: aFreqMajor, xMin: aFreqMinor, xFmt: f1, xMargin: 17, xName: 'Frequency (THz)', xNameGap: 41, xNamePad: [0, 18, 0, 0],
   yMaj: aResTicks, yFmt: f1, yMargin: 8, yLen: 9, yName: 'Residual', yNameGap: 38});
const B1 = panel([724, 33, 256, 279], bcFreqRange, bcAbsRange,
  {xMaj: bcFreqMajor, xMin: bcFreqMinor, yMaj: absMajor, yMin: absMinor});
const B2 = panel([724, 330, 256, 108], bcFreqRange, bcResRange,
  {xMaj: bcFreqMajor, xMin: bcFreqMinor, xFmt: f2, xMargin: 11, xName: 'Frequency (THz)', xNameGap: 39,
   yMaj: bcResTicks, yLen: 8});
const C1 = panel([1000, 33, 256, 279], bcFreqRange, bcAbsRange,
  {xMaj: bcFreqMajor, xMin: bcFreqMinor, yMaj: absMajor, yMin: absMinor});
const C2 = panel([1000, 330, 256, 108], bcFreqRange, bcResRange,
  {xMaj: bcFreqMajor, xMin: bcFreqMinor, xFmt: f2, xMargin: 11, xName: 'Frequency (THz)', xNameGap: 39,
   yMaj: bcResTicks, yLen: 8});

const RED = '#e8484c', BLUE = '#2b3a94', DOT = '#3f5cbf';
const osaPts = rowsToPoints(aOsaRows, aFreqStart, aFreqStep).sort((p, q) => p[0] - q[0]);
const rawPts = rowsToPoints(aRawRows, aFreqStart, aFreqStep).concat(rowsToPoints(aRawRows2, aFreqStart2, aFreqStep));
const resPts = rowsToPoints(aResRows, aFreqStart, aFreqStep).concat(rowsToPoints(aResRows2, aFreqStart2, aFreqStep));

const series = [
  Object.assign({name: 'Raw data', type: 'scatter', symbol: 'circle', symbolSize: 5.5, z: 2,
    itemStyle: {color: 'rgba(255,255,255,0)', borderColor: '#363636', borderWidth: 1},
    data: rawPts}, A1),
  Object.assign({name: 'OSA', type: 'line', symbol: 'none', z: 3, color: RED,
    lineStyle: {color: RED, width: 1.6}, data: osaPts}, A1),
  Object.assign({name: 'resA', type: 'scatter', symbol: 'circle', symbolSize: 2.6,
    itemStyle: {color: DOT}, data: resPts}, A2),
  Object.assign({name: 'Raw data ', type: 'scatter', symbol: 'circle', symbolSize: 7, z: 2,
    itemStyle: {color: 'rgba(255,255,255,0)', borderColor: '#2a2a2a', borderWidth: 1.2},
    data: gridPoints(bRaw, bFreqStart, bFreqStep)}, B1),
  Object.assign({name: 'FITSS', type: 'line', symbol: 'none', z: 3, color: BLUE, smooth: 0.3, smoothMonotone: 'x',
    lineStyle: {color: BLUE, width: 2}, data: pairPoints(bFitFreq, bFitVal)}, B1),
  Object.assign({name: 'resB', type: 'scatter', symbol: 'circle', symbolSize: 3.4,
    itemStyle: {color: DOT}, data: gridPoints(bRes, bFreqStart, bFreqStep)}, B2),
  Object.assign({name: 'FITSS ', type: 'line', symbol: 'none', z: 2, color: BLUE, smooth: 0.3, smoothMonotone: 'x',
    lineStyle: {color: BLUE, width: 2.2}, data: pairPoints(cFitFreq, cFitVal)}, C1),
  Object.assign({name: 'OSA ', type: 'scatter', symbol: 'circle', symbolSize: 6, z: 3,
    itemStyle: {color: 'rgba(255,255,255,0)', borderColor: '#e8393c', borderWidth: 1.1},
    data: gridPoints(cOsa, cFreqStart, cFreqStep)}, C1),
  Object.assign({name: 'resC', type: 'scatter', symbol: 'circle', symbolSize: 3.4,
    itemStyle: {color: DOT}, data: gridPoints(cRes, cFreqStart, cFreqStep)}, C2)
];

function leg(name, left, top, w, h, icon, pad) {
  return {data: [{name: name, icon: icon}], left: left, top: top, orient: 'vertical', padding: 0,
    itemWidth: w, itemHeight: h, selectedMode: false, formatter: n => n.trim(),
    textStyle: {fontSize: 18, color: TXT, fontFamily: FONT, lineHeight: 20, padding: [0, 0, 0, pad]}};
}
const legends = [
  leg('Raw data', 109.3, 52, 5.5, 5.5, 'circle', 13),
  leg('OSA', 102, 79, 21, 2, 'rect', 5),
  leg('Raw data ', 745.5, 43, 7, 7, 'circle', 9.5),
  leg('FITSS', 740, 75, 18, 2, 'rect', 4),
  leg('OSA ', 1020.5, 43, 6, 6, 'circle', 9.5),
  leg('FITSS ', 1015, 75, 17, 2, 'rect', 4)
];

function txt(s, x, y, size, align, bold) {
  return {type: 'text', x: x, y: y, z: 100, silent: true,
    style: {text: s, fill: TXT, font: (bold ? 'bold ' : '') + size + 'px ' + FONT,
      align: align, verticalAlign: 'middle', textAlign: align, textVerticalAlign: 'middle'}};
}
const graphics = [
  txt('(a)', 8, 15, 18, 'left', true),
  txt('(b)', 722, 15, 18, 'left', true),
  txt('(c)', 981, 15, 18, 'left', true),
  txt('P7', 509, 57, 19, 'center'),
  txt('P7', 889, 69, 19, 'center'),
  txt('\u03c3 = 0.059', 647, 347, 18, 'center'),
  txt('\u03c3 = 0.027', 927, 350, 18, 'center'),
  txt('\u03c3 = 0.022', 1199, 350, 18, 'center')
];

const chart = echarts.init(document.getElementById('c'), null, {renderer: 'canvas'});
chart.setOption({
  animation: false, backgroundColor: '#fff',
  grid: grids, xAxis: xAxes, yAxis: yAxes, series: series, legend: legends, graphic: graphics
});
</script></body></html>
